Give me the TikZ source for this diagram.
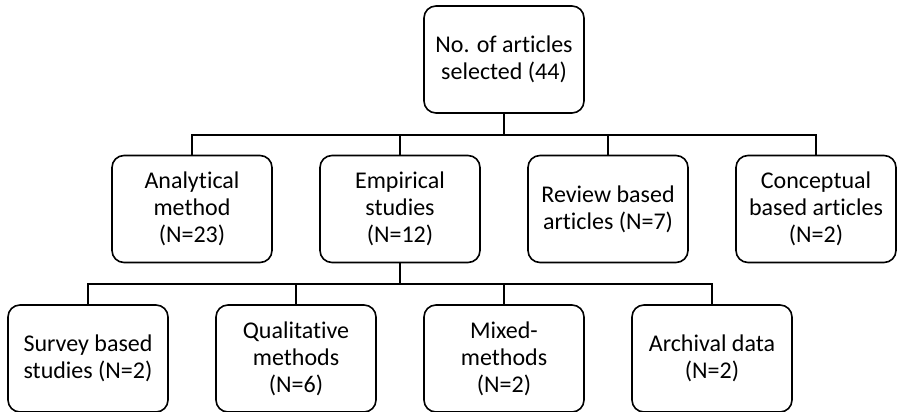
\documentclass[tikz,border=0pt]{standalone}
\usepackage{fontspec}
\setmainfont{Carlito}[Ligatures=NoCommon]
\begin{document}
\begin{tikzpicture}[x=1pt,y=-1pt,
  box/.style={draw, line width=1.6pt, rounded corners=12pt, minimum width=160pt, minimum height=107pt, align=center, inner sep=2pt, font=\fontsize{24}{27}\selectfont},
  conn/.style={line width=1.6pt}]
\useasboundingbox (0,0) rectangle (897,412);
\node[box] (top) at (504,59.5) {No. of articles\\selected (44)};
\node[box] (an) at (192,209) {Analytical\\method\\(N=23)};
\node[box] (em) at (400,209) {Empirical\\studies\\(N=12)};
\node[box] (re) at (608,209) {Review based\\articles (N=7)};
\node[box] (co) at (816,209) {Conceptual\\based articles\\(N=2)};
\node[box] (su) at (88,358.5) {Survey based\\studies (N=2)};
\node[box] (qu) at (296,358.5) {Qualitative\\methods\\(N=6)};
\node[box] (mi) at (504,358.5) {Mixed-\\methods\\(N=2)};
\node[box] (ar) at (712,358.5) {Archival data\\(N=2)};
\coordinate (b1) at (504,135);
\coordinate (b2) at (400,284);
\draw[conn] (top.south) -- (b1);
\draw[conn] (an.north) |- (b1) -| (co.north);
\draw[conn] (em.north) -- (em.north |- b1);
\draw[conn] (re.north) -- (re.north |- b1);
\draw[conn] (em.south) -- (b2);
\draw[conn] (su.north) |- (b2) -| (ar.north);
\draw[conn] (qu.north) -- (qu.north |- b2);
\draw[conn] (mi.north) -- (mi.north |- b2);
\end{tikzpicture}
\end{document}
